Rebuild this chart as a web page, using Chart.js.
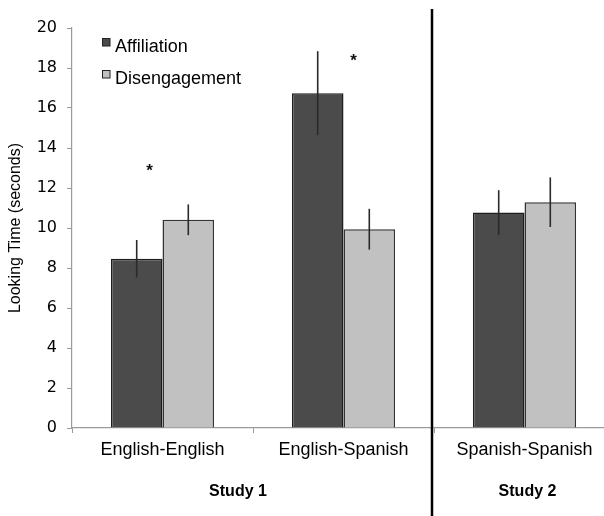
<!DOCTYPE html>
<html>
<head>
<meta charset="utf-8">
<script src="https://cdn.jsdelivr.net/npm/chart.js@4.4.1/dist/chart.umd.min.js"></script>
<style>
  html, body { margin: 0; padding: 0; background: #fff; overflow: hidden; }
  #wrap { width: 620px; height: 516px; }
</style>
</head>
<body>
<div id="wrap"><canvas id="wykres" width="620" height="516"></canvas></div>
<script>
// dane
var kategorie = ["English-English", "English-Spanish", "Spanish-Spanish"];
var afiliacja = [8.46, 16.74, 10.77];
var afiliacjaBlad = [0.94, 2.10, 1.12];
var rozlaczenie = [10.41, 9.94, 11.29];
var rozlaczenieBlad = [0.77, 1.02, 1.24];
var gwiazdki = [13.0, 18.5, null];
var badania = ["Study 1", "Study 2"];
var yTicki = [0, 2, 4, 6, 8, 10, 12, 14, 16, 18, 20];

var ciemny = '#4b4b4b';
var jasny = '#c1c1c1';
var osKolor = '#9a9a9a';

// slupki bledow, gwiazdki, linia podzialu, opisy badan, legenda
var dodatki = {
	id: 'dodatki',
	afterDatasetsDraw: function(chart) {
		var ctx = chart.ctx;
		var x = chart.scales.x;
		var y = chart.scales.y;
		var bledy = [afiliacjaBlad, rozlaczenieBlad];

		ctx.save();
		ctx.strokeStyle = '#2a2a2a';
		ctx.lineWidth = 1.6;
		chart.data.datasets.forEach(function(ds, d) {
			var meta = chart.getDatasetMeta(d);
			meta.data.forEach(function(bar, i) {
				var v = ds.data[i];
				var e = bledy[d][i];
				ctx.beginPath();
				ctx.moveTo(bar.x, y.getPixelForValue(v + e));
				ctx.lineTo(bar.x, y.getPixelForValue(v - e));
				ctx.stroke();
			});
		});

		// gwiazdki
		ctx.fillStyle = '#111';
		ctx.font = 'bold 17px "Liberation Sans", Arial, sans-serif';
		ctx.textAlign = 'center';
		ctx.textBaseline = 'middle';
		var przes = [-13, 10, 0];
		gwiazdki.forEach(function(g, i) {
			if (g === null) return;
			ctx.fillText('*', x.getPixelForValue(i) + przes[i], y.getPixelForValue(g) + 3);
		});

		// linia podzialu
		var px = (x.getPixelForValue(1) + x.getPixelForValue(2)) / 2 - 2;
		ctx.strokeStyle = '#000';
		ctx.lineWidth = 2.5;
		ctx.beginPath();
		ctx.moveTo(px, 9);
		ctx.lineTo(px, chart.height);
		ctx.stroke();

		// opisy badan
		ctx.fillStyle = '#000';
		ctx.font = 'bold 16px "Liberation Sans", Arial, sans-serif';
		var s1 = (x.getPixelForValue(0) + x.getPixelForValue(1)) / 2 - 15;
		var s2 = x.getPixelForValue(2) + 3;
		ctx.fillText(badania[0], s1, 492);
		ctx.fillText(badania[1], s2, 492);

		// legenda
		ctx.font = '18px "Liberation Sans", Arial, sans-serif';
		ctx.textAlign = 'left';
		chart.data.datasets.forEach(function(ds, d) {
			var ly = 42 + d * 32;
			ctx.fillStyle = ds.backgroundColor;
			ctx.fillRect(102, ly - 4, 8, 8);
			ctx.strokeStyle = '#222';
			ctx.lineWidth = 1;
			ctx.strokeRect(102.5, ly - 3.5, 7.5, 7.5);
			ctx.fillStyle = '#000';
			ctx.fillText(ds.label, 115, ly + 5);
		});
		ctx.restore();
	}
};

var ctx = document.getElementById('wykres');

var wykres = new Chart(ctx, {
	type: 'bar',
	data: {
		labels: kategorie,
		datasets: [
			{
				label: 'Affiliation',
				data: afiliacja,
				backgroundColor: ciemny,
				borderColor: '#1e1e1e',
				borderWidth: 1.5
			},
			{
				label: 'Disengagement',
				data: rozlaczenie,
				backgroundColor: jasny,
				borderColor: '#333',
				borderWidth: 1.5
			}
		]
	},
	options: {
		responsive: false,
		animation: false,
		devicePixelRatio: 1,
		layout: { padding: { top: 28, right: 5, left: 0, bottom: 0 } },
		datasets: {
			bar: { categoryPercentage: 0.57, barPercentage: 1.0 }
		},
		plugins: {
			legend: { display: false },
			tooltip: { enabled: false }
		},
		scales: {
			x: {
				grid: {
					offset: true,
					drawOnChartArea: false,
					color: osKolor,
					tickLength: 5
				},
				border: { color: osKolor, width: 1.2 },
				ticks: {
					color: '#000',
					padding: 6,
					font: { family: '"Liberation Sans", Arial, sans-serif', size: 18 }
				},
				afterFit: function(skala) { skala.height = 88; }
			},
			y: {
				min: 0,
				max: 20,
				afterBuildTicks: function(skala) {
					skala.ticks = yTicki.map(function(v) { return { value: v }; });
				},
				grid: {
					drawOnChartArea: false,
					color: osKolor,
					tickLength: 5
				},
				border: { color: osKolor, width: 1.2 },
				ticks: {
					color: '#000',
					padding: 10,
					font: { family: '"DejaVu Sans", sans-serif', size: 16 }
				},
				title: {
					display: true,
					text: 'Looking Time (seconds)',
					color: '#000',
					padding: { top: 6, bottom: 0 },
					font: { family: '"Liberation Sans", Arial, sans-serif', size: 16 }
				},
				afterFit: function(skala) { skala.width = 72; }
			}
		}
	},
	plugins: [dodatki]
});
</script>
</body>
</html>
